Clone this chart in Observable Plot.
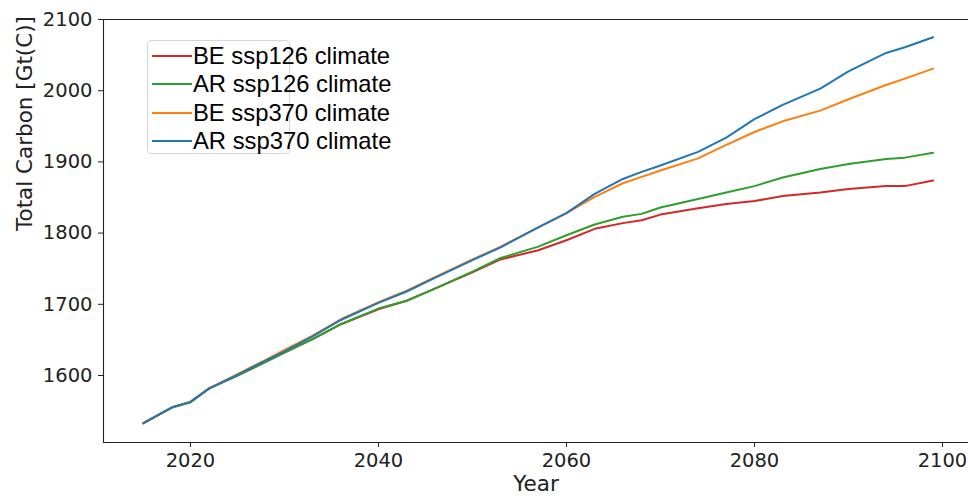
<!DOCTYPE html>
<html>
<head>
<meta charset="utf-8">
<script src="https://cdn.jsdelivr.net/npm/d3@7"></script>
<script src="https://cdn.jsdelivr.net/npm/@observablehq/plot@0.6"></script>
<style>
  html, body { margin: 0; padding: 0; background: #fff; }
  #wrap { position: relative; width: 968px; height: 496px; overflow: hidden; }
  #legend {
    position: absolute; left: 147px; top: 40px; width: 143px; height: 114px;
    border: 1px solid #d6d6d6; border-radius: 4px; background: rgba(255,255,255,0.8);
    box-sizing: border-box;
  }
  .row { position: absolute; left: 152px; height: 28px; display: flex; align-items: center;
    font-family: "Liberation Sans", Arial, sans-serif; font-size: 23.8px; color: #000; white-space: nowrap; }
  .sw { width: 40px; height: 2px; margin-right: 1px; }
</style>
</head>
<body>
<div id="wrap"><div id="chart"></div><div id="legend"></div></div>
<script>
const years = [2015, 2018, 2020, 2022, 2025, 2028, 2030, 2033, 2036, 2040, 2043, 2046, 2050, 2053, 2057, 2060, 2063, 2066, 2068, 2070, 2074, 2077, 2080, 2083, 2087, 2090, 2094, 2096, 2099];
const beSsp126 = [1533, 1555, 1563, 1582, 1600, 1619, 1632, 1651, 1672, 1693, 1705, 1722, 1745, 1763, 1776, 1790, 1806, 1814, 1818, 1826, 1835, 1841, 1845, 1852, 1857, 1862, 1866, 1866, 1874];
const arSsp126 = [1533, 1555, 1562, 1582, 1600, 1619, 1632, 1651, 1672, 1694, 1705, 1722, 1746, 1765, 1781, 1797, 1812, 1823, 1827, 1836, 1848, 1857, 1866, 1878, 1890, 1897, 1904, 1906, 1913];
const beSsp370 = [1533, 1555, 1563, 1582, 1602, 1622, 1636, 1656, 1679, 1703, 1719, 1738, 1763, 1781, 1808, 1828, 1851, 1870, 1879, 1888, 1905, 1924, 1942, 1957, 1972, 1988, 2008, 2017, 2031];
const arSsp370 = [1533, 1555, 1563, 1582, 1601, 1621, 1634, 1655, 1678, 1702, 1718, 1737, 1762, 1780, 1808, 1828, 1855, 1876, 1886, 1895, 1914, 1934, 1960, 1980, 2003, 2027, 2053, 2061, 2075];
const seriesNames = ["BE ssp126 climate", "AR ssp126 climate", "BE ssp370 climate", "AR ssp370 climate"];
const seriesValues = [beSsp126, arSsp126, beSsp370, arSsp370];
const seriesColors = ["#d62728", "#2ca02c", "#ff7f0e", "#1f77b4"];
const xTicks = [2020, 2040, 2060, 2080, 2100];
const yTicks = [1600, 1700, 1800, 1900, 2000, 2100];
const xDomain = [2010.75, 2102.77];
const yDomain = [1505.9, 2100];

const data = [];
seriesNames.forEach((name, i) => {
  years.forEach((yr, j) => data.push({series: name, year: yr, value: seriesValues[i][j]}));
});

const plot = Plot.plot({
  width: 968,
  height: 496,
  marginLeft: 103,
  marginRight: 0,
  marginTop: 19,
  marginBottom: 54,
  style: {fontFamily: "DejaVu Sans, sans-serif", fontSize: "19.5px", color: "#222", background: "#fff"},
  x: {domain: xDomain},
  y: {domain: yDomain},
  color: {domain: seriesNames, range: seriesColors},
  marks: [
    Plot.axisX({ticks: xTicks, tickFormat: d => String(d), tickSize: 5, tickPadding: 6, label: null, fontSize: 19.5, stroke: "#222"}),
    Plot.axisY({ticks: yTicks, tickFormat: d => String(d), tickSize: 5, tickPadding: 6, label: null, fontSize: 19.5, stroke: "#222"}),
    Plot.ruleX([xDomain[0]], {stroke: "#222", strokeWidth: 1.1}),
    Plot.ruleY([yDomain[0]], {stroke: "#222", strokeWidth: 1.1}),
    Plot.ruleY([yDomain[1]], {stroke: "#222", strokeWidth: 1.1}),
    Plot.line(data, {x: "year", y: "value", z: "series", stroke: "series", strokeWidth: 2, curve: "linear"}),
    Plot.text(["Total Carbon [Gt(C)]"], {frameAnchor: "left", dx: -78, rotate: -90, fontSize: 21.5, fill: "#222", text: d => d}),
    Plot.text(["Year"], {frameAnchor: "bottom", dy: 48, fontSize: 21.5, fill: "#222", text: d => d})
  ]
});
document.getElementById("chart").appendChild(plot);

const wrap = document.getElementById("wrap");
seriesNames.forEach((name, i) => {
  const row = document.createElement("div");
  row.className = "row";
  row.style.top = (42 + i * 28.3) + "px";
  const sw = document.createElement("div");
  sw.className = "sw";
  sw.style.background = seriesColors[i];
  const tx = document.createElement("span");
  tx.textContent = name;
  row.appendChild(sw); row.appendChild(tx);
  wrap.appendChild(row);
});
</script>
</body>
</html>
